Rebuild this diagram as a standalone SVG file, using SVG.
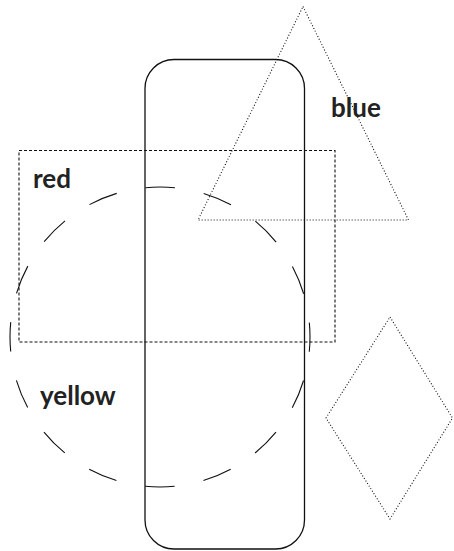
<svg xmlns="http://www.w3.org/2000/svg" width="454" height="551" viewBox="0 0 454 551">
<style>
.s{fill:none;stroke:#111;stroke-width:1.1}
.dot{stroke-dasharray:1 2}
.dash{stroke-dasharray:3 2}
.long{stroke-dasharray:29.5 29.4;stroke-dashoffset:14.75}
.solid{stroke-width:1.3}
text{font-family:Lato,"Open Sans",sans-serif;font-weight:bold;font-size:26px;fill:#222}
</style>
<rect width="454" height="551" fill="#fff"/>
<g id="rounded"><rect class="s solid" x="145" y="59.5" width="159.5" height="489.5" rx="29" ry="29"/></g>
<g id="triangle"><polygon class="s dot" points="303,6.5 408.5,220 198,220"/></g>
<g id="red"><rect class="s dash" x="19" y="150.5" width="316" height="191.5"/></g>
<g id="yellow"><circle class="s long" cx="160" cy="337" r="150"/></g>
<g id="diamond"><polygon class="s dot" points="390,317 452.5,418 390,519 326,418"/></g>
<g id="labels">
<text x="331" y="117.3">blue</text>
<text x="33" y="188.3">red</text>
<text x="40" y="405">yellow</text>
</g>
<g id="connectors"></g>
</svg>
